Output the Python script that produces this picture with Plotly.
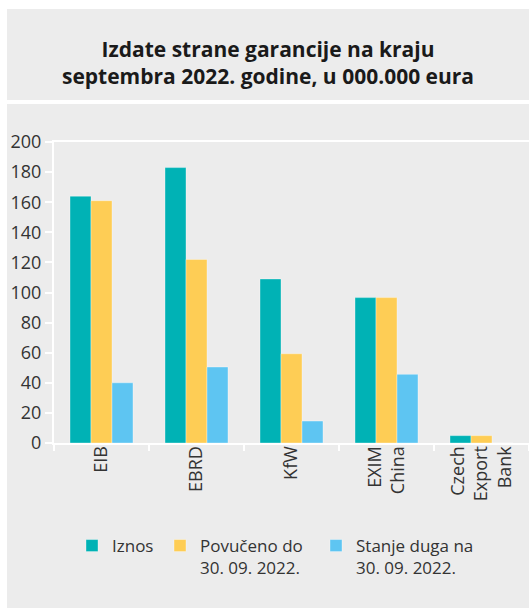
import plotly.graph_objects as go

categories = ["EIB", "EBRD", "KfW", "EXIM<br>China", "Czech<br>Export<br>Bank"]
iznos = [164, 183, 109, 96.6, 4.9]
povuceno = [161, 122, 59.3, 96.6, 4.9]
stanje = [40, 50.5, 14.6, 45.6, 0]
series_names = ["Iznos", "Povučeno do<br>30. 09. 2022.", "Stanje duga na<br>30. 09. 2022."]
colors = ["#00b2b5", "#fecd55", "#5ec5f2"]
y_ticks = [0, 20, 40, 60, 80, 100, 120, 140, 160, 180, 200]

W, H = 529, 613
L, R, T, B = 54, 0, 142, 170
pw, ph = W - L - R, H - T - B

def px_x(p):
    return (p - L) / pw

def px_y(p):
    return (H - B - p) / ph

legend_ids = ["legend", "legend2", "legend3"]
legend_left = [72, 160, 316]

fig = go.Figure()
for name, vals, c, lid in zip(series_names, [iznos, povuceno, stanje], colors, legend_ids):
    fig.add_trace(go.Bar(x=categories, y=vals, name=name, marker_color=c, legend=lid,
                         showlegend=True,
                         marker_line_color="rgba(255,255,255,0.35)", marker_line_width=1))

font_family = "Open Sans, DejaVu Sans, sans-serif"
legend_font = dict(size=17, color="#333333", family=font_family)
legends = {}
for lid, lx in zip(legend_ids, legend_left):
    legends[lid] = dict(orientation="h", x=lx / W, xref="container", xanchor="left",
                        y=1 - 528 / H, yref="container", yanchor="top", visible=True,
                        valign="top", font=legend_font, bgcolor="rgba(0,0,0,0)")

fig.update_layout(
    width=W, height=H,
    showlegend=True,
    margin=dict(l=L, r=R, t=T, b=B, pad=0, autoexpand=False),
    paper_bgcolor="white",
    plot_bgcolor="rgba(0,0,0,0)",
    barmode="group",
    bargap=0.337,
    bargroupgap=0,
    font=dict(family=font_family, color="#333333", size=16),
    title=dict(text="<b>Izdate strane garancije na kraju<br>septembra 2022. godine, u 000.000 eura</b>",
               x=268 / W, xref="container", xanchor="center",
               y=1 - 57 / H, yref="container", yanchor="middle",
               font=dict(size=21, color="#1a1a1a", family=font_family)),
    shapes=[
        dict(type="rect", xref="paper", yref="paper", x0=px_x(7), x1=px_x(W + 5),
             y0=px_y(100), y1=px_y(9), fillcolor="#ececec", line_width=0, layer="below"),
        dict(type="rect", xref="paper", yref="paper", x0=px_x(7), x1=px_x(W + 5),
             y0=px_y(608), y1=px_y(104), fillcolor="#ececec", line_width=0, layer="below"),
    ],
    **legends,
)
fig.update_yaxes(range=[0, 200], tickvals=y_ticks, showgrid=False, zeroline=False,
                 automargin=False,
                 showline=True, linecolor="white", linewidth=2,
                 ticks="outside", tickcolor="white", ticklen=7, tickwidth=2,
                 tickfont=dict(size=18, color="#333333"))
fig.update_xaxes(showgrid=False, showline=True, linecolor="white", linewidth=2, mirror=True,
                 automargin=False,
                 ticks="outside", tickson="boundaries", tickcolor="white", ticklen=6, tickwidth=2,
                 ticklabelstandoff=-6,
                 tickangle=-90, tickfont=dict(size=18, color="#333333"))

fig.write_html("out.html", config={"displayModeBar": False},
               post_script="document.body.style.margin='0';document.body.style.overflow='hidden';")
